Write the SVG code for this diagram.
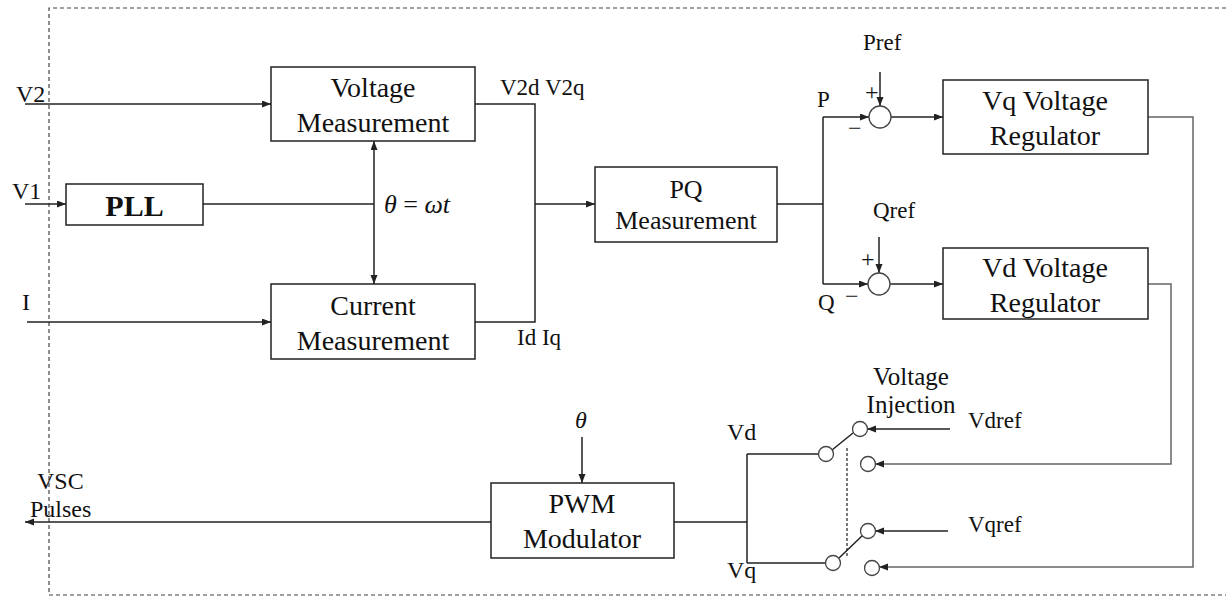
<svg xmlns="http://www.w3.org/2000/svg" width="1226" height="597" viewBox="0 0 1226 597">
<defs>
<marker id="ah" markerUnits="userSpaceOnUse" markerWidth="10" markerHeight="8" refX="9" refY="3.5" orient="auto-start-reverse"><path d="M0,0 L9,3.5 L0,7 z" fill="#222"/></marker>
</defs>
<style>
.ln{stroke:#222;stroke-width:1.5;fill:none}
.fb{stroke:#666;stroke-width:1.5;fill:none}
.box{fill:#fff;stroke:#222;stroke-width:1.5}
text{font-family:'Liberation Serif','DejaVu Serif',serif;fill:#111}
.bt{font-size:28px;text-anchor:middle}
.lb{font-size:24px}
.pm{font-size:24px}
.sw{fill:#fff;stroke:#444;stroke-width:1.3}
.arr{marker-end:url(#ah)}
</style>
<rect width="1226" height="597" fill="#fff"/>
<path d="M1226,8 H49 V595 H1226" fill="none" stroke="#444" stroke-width="1.2" stroke-dasharray="4 3"/>

<g id="connectors">
<path class="ln arr" d="M25,104 H271"/>
<path class="ln arr" d="M25,204 H66"/>
<path class="ln arr" d="M27,322 H271"/>
<path class="ln" d="M203,204 H374"/>
<path class="ln arr" d="M374,141 V284" marker-start="url(#ah)"/>
<path class="ln" d="M475,104 H535 V322 H475"/>
<path class="ln arr" d="M535,204 H595"/>
<path class="ln" d="M777,204 H823 M823,117 V284"/>
<path class="ln arr" d="M823,117 H869"/>
<path class="ln arr" d="M823,284 H868"/>
<path class="ln arr" d="M880,72 V106"/>
<path class="ln arr" d="M879,237 V273"/>
<path class="ln arr" d="M891,117 H943"/>
<path class="ln arr" d="M890,284 H943"/>
<path class="fb arr" d="M1148,117 H1193 V567 H879"/>
<path class="fb arr" d="M1148,284 H1171 V464 H875"/>
<path class="ln arr" d="M950,429 H867"/>
<path class="ln arr" d="M948,531 H875"/>
<path class="ln arr" d="M491,522 H25"/>
<path class="ln arr" d="M582,437 V483"/>
<path class="ln" d="M674,522 H747 M747,454 V563 M747,454 H818 M747,563 H825"/>
<path class="ln" d="M832,450 L853,433 M839,558 L863,535"/>
<path d="M847,448 V557" stroke="#222" stroke-width="1.2" stroke-dasharray="3 2" fill="none"/>
</g>

<g id="voltage-measurement">
<rect class="box" x="271" y="67" width="204" height="74"/>
<text class="bt" x="373" y="97">Voltage</text>
<text class="bt" x="373" y="132">Measurement</text>
</g>
<g id="current-measurement">
<rect class="box" x="271" y="284" width="204" height="75"/>
<text class="bt" x="373" y="315">Current</text>
<text class="bt" x="373" y="350">Measurement</text>
</g>
<g id="pll">
<rect class="box" x="66" y="184" width="137" height="41"/>
<text x="134.5" y="216" font-size="30" font-weight="bold" text-anchor="middle">PLL</text>
</g>
<g id="pq-measurement">
<rect class="box" x="595" y="167" width="182" height="75"/>
<text x="686" y="198" font-size="26" text-anchor="middle">PQ</text>
<text x="686" y="229" font-size="26" text-anchor="middle">Measurement</text>
</g>
<g id="vq-regulator">
<rect class="box" x="943" y="80" width="205" height="74"/>
<text class="bt" x="1045" y="110">Vq Voltage</text>
<text class="bt" x="1045" y="145">Regulator</text>
</g>
<g id="vd-regulator">
<rect class="box" x="943" y="248" width="205" height="71"/>
<text class="bt" x="1045" y="277">Vd Voltage</text>
<text class="bt" x="1045" y="312">Regulator</text>
</g>
<g id="pwm-modulator">
<rect class="box" x="491" y="483" width="183" height="75"/>
<text class="bt" x="582" y="513">PWM</text>
<text class="bt" x="582" y="548">Modulator</text>
</g>
<g id="sum-p">
<circle class="sw" cx="880" cy="117" r="11"/>
<text class="pm" x="865" y="100">+</text>
<text class="pm" x="848" y="136">−</text>
</g>
<g id="sum-q">
<circle class="sw" cx="879" cy="284" r="11"/>
<text class="pm" x="861" y="267">+</text>
<text class="pm" x="845" y="304">−</text>
</g>
<g id="switch">
<circle class="sw" cx="826" cy="454" r="7.5"/>
<circle class="sw" cx="860" cy="429" r="7.5"/>
<circle class="sw" cx="868" cy="464" r="7.5"/>
<circle class="sw" cx="833" cy="563" r="7.5"/>
<circle class="sw" cx="868" cy="531" r="7.5"/>
<circle class="sw" cx="872" cy="568" r="7.5"/>
</g>

<g id="labels">
<text class="lb" x="16" y="102">V2</text>
<text class="lb" x="12" y="199">V1</text>
<text class="lb" x="22" y="310">I</text>
<text x="384" y="213" font-size="26"><tspan font-style="italic">θ</tspan> = <tspan font-style="italic">ωt</tspan></text>
<text x="500" y="95" font-size="23">V2d V2q</text>
<text x="517" y="345" font-size="23">Id Iq</text>
<text x="817" y="107" font-size="23">P</text>
<text x="818" y="310" font-size="23">Q</text>
<text x="863" y="50" font-size="23">Pref</text>
<text x="873" y="218" font-size="23">Qref</text>
<text class="lb" x="575" y="428" font-style="italic">θ</text>
<text class="lb" x="37" y="489">VSC</text>
<text class="lb" x="30" y="517">Pulses</text>
<text class="lb" x="727" y="440">Vd</text>
<text class="lb" x="727" y="578">Vq</text>
<text x="911" y="385" font-size="25" text-anchor="middle">Voltage</text>
<text x="911" y="413" font-size="25" text-anchor="middle">Injection</text>
<text x="968" y="428" font-size="23">Vdref</text>
<text x="968" y="532" font-size="23">Vqref</text>
</g>
</svg>
